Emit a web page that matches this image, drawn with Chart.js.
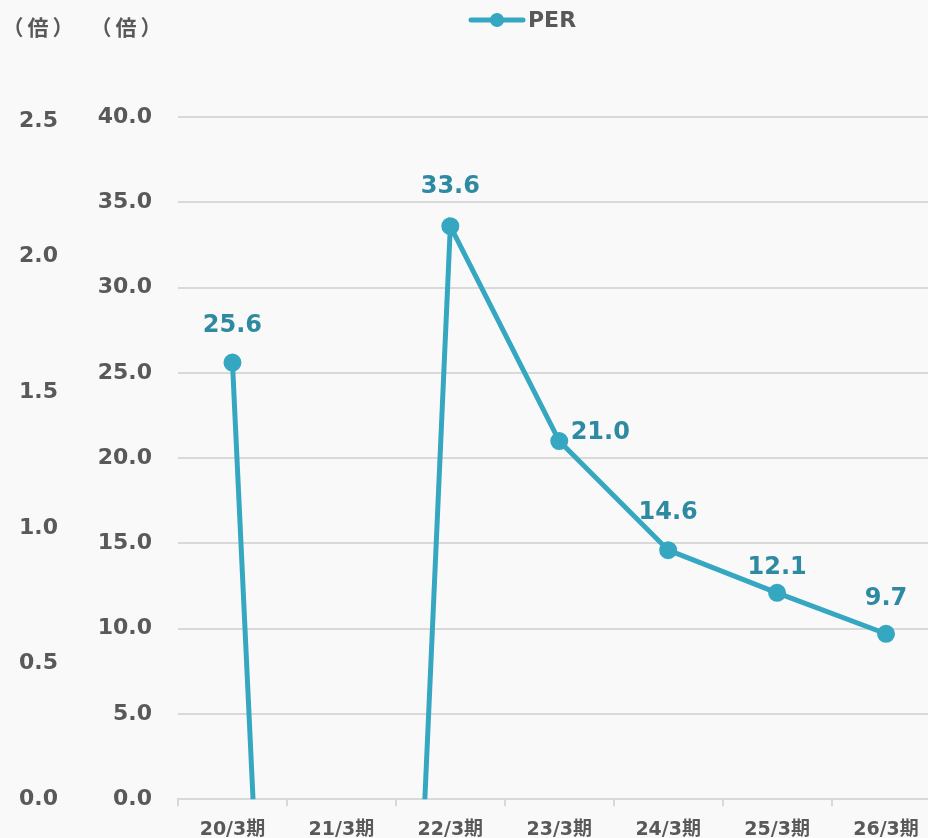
<!DOCTYPE html>
<html>
<head>
<meta charset="utf-8">
<script src="https://cdn.jsdelivr.net/npm/chart.js@4"></script>
<style>
  html, body { margin: 0; padding: 0; background: #f9f9f9; overflow: hidden; }
  #wrap { width: 952px; height: 853px; }
</style>
</head>
<body>
<div id="wrap"><canvas id="perChart"></canvas></div>
<script>
// data
const categories = ['20/3期', '21/3期', '22/3期', '23/3期', '24/3期', '25/3期', '26/3期'];
const perValues = [25.6, -110, 33.6, 21.0, 14.6, 12.1, 9.7];
const perTicks = { min: 0, max: 40, step: 5 };
const pbrTickValues = [0, 0.5, 1.0, 1.5, 2.0, 2.5];
const axisUnits = ['（倍）', '（倍）'];

const FONT = "'DejaVu Sans', 'Noto Sans CJK JP', sans-serif";
const CJK = "'Noto Sans CJK JP', sans-serif";
const GRAY = '#595959';
const LINE = '#35a7c1';
const LABEL = '#2e8aa1';

// label offsets (dx, dy) relative to each point
const labelOffsets = [[0, -37], [0, 0], [0, -39], [41, -8], [0, -37], [0, -25], [0, -35]];

const overlay = {
  id: 'overlay',
  afterDatasetsDraw(chart) {
    const { ctx, chartArea } = chart;
    const meta = chart.getDatasetMeta(0);
    ctx.save();
    ctx.font = `bold 24px ${FONT}`;
    ctx.fillStyle = LABEL;
    ctx.textAlign = 'center';
    ctx.textBaseline = 'middle';
    meta.data.forEach((pt, i) => {
      if (pt.y < chartArea.top - 1 || pt.y > chartArea.bottom + 1) return;
      const [dx, dy] = labelOffsets[i];
      ctx.fillText(perValues[i].toFixed(1), pt.x + dx, pt.y + dy);
    });

    // axis unit titles
    ctx.font = `bold 21px ${CJK}`;
    ctx.letterSpacing = '4px';
    ctx.fillStyle = GRAY;
    ctx.fillText(axisUnits[0], 40, 27);
    ctx.fillText(axisUnits[1], 128, 27);
    ctx.letterSpacing = '0px';

    // legend
    ctx.strokeStyle = LINE;
    ctx.lineWidth = 5;
    ctx.lineCap = 'round';
    ctx.beginPath();
    ctx.moveTo(471, 20);
    ctx.lineTo(523, 20);
    ctx.stroke();
    ctx.fillStyle = LINE;
    ctx.beginPath();
    ctx.arc(497, 20, 7, 0, Math.PI * 2);
    ctx.fill();
    ctx.font = `bold 22px ${FONT}`;
    ctx.fillStyle = GRAY;
    ctx.textAlign = 'left';
    ctx.fillText('PER', 528, 21);
    ctx.restore();
  }
};

new Chart(document.getElementById('perChart'), {
  type: 'line',
  data: {
    labels: categories,
    datasets: [{
      label: 'PER',
      data: perValues,
      yAxisID: 'y',
      borderColor: LINE,
      backgroundColor: LINE,
      borderWidth: 5,
      pointRadius: 6.5,
      pointHoverRadius: 6.5,
      tension: 0,
      clip: 0
    }]
  },
  options: {
    responsive: true,
    maintainAspectRatio: false,
    animation: false,
    layout: { padding: { top: 117, right: 0, left: 0, bottom: 0 } },
    plugins: { legend: { display: false }, tooltip: { enabled: false } },
    scales: {
      x: {
        offset: true,
        grid: { offset: true, drawOnChartArea: false, drawTicks: true, tickLength: 7, color: '#d9d9d9', lineWidth: 2 },
        border: { display: true, color: '#d9d9d9', width: 2 },
        ticks: { color: GRAY, font: { family: FONT, size: 19, weight: 'bold' }, padding: 12, maxRotation: 0 }
      },
      y: {
        position: 'left',
        weight: 0,
        min: perTicks.min,
        max: perTicks.max,
        grid: { color: '#d9d9d9', lineWidth: 2, drawTicks: false },
        border: { display: false },
        ticks: {
          stepSize: perTicks.step,
          color: GRAY,
          padding: 26,
          font: { family: FONT, size: 22, weight: 'bold' },
          callback: (v) => v.toFixed(1)
        },
        afterFit: (s) => { s.width = 100; }
      },
      y2: {
        position: 'left',
        weight: 1,
        min: 0,
        max: 2.515,
        grid: { display: false, drawTicks: false },
        border: { display: false },
        afterBuildTicks: (s) => { s.ticks = pbrTickValues.map(v => ({ value: v })); },
        ticks: {
          color: GRAY,
          padding: 20,
          font: { family: FONT, size: 22, weight: 'bold' },
          callback: (v) => v.toFixed(1)
        },
        afterFit: (s) => { s.width = 78; }
      }
    }
  },
  plugins: [overlay]
});
</script>
</body>
</html>
